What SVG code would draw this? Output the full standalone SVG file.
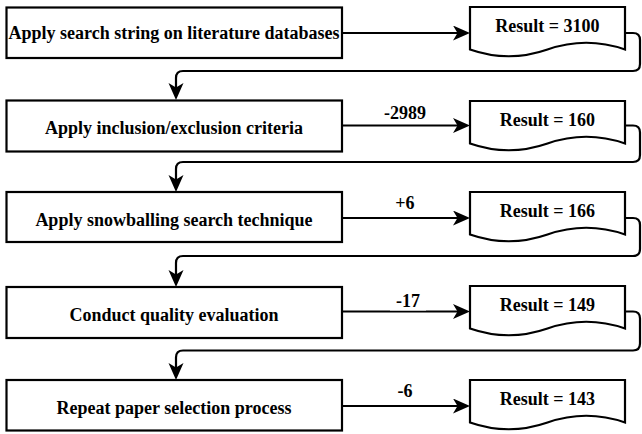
<svg xmlns="http://www.w3.org/2000/svg" width="642" height="434" viewBox="0 0 642 434">
<style>
.box{fill:#fff;stroke:#000;stroke-width:2.2}
.doc{fill:#fff;stroke:#000;stroke-width:2.2;stroke-linejoin:miter}
.t{font-family:"Liberation Serif","Times New Roman",serif;font-weight:bold;font-size:18px;fill:#000;text-anchor:middle}
.c{fill:none;stroke:#000;stroke-width:2.2}
</style>
<defs>
<marker id="ah" markerUnits="userSpaceOnUse" markerWidth="20" markerHeight="16" refX="12" refY="7.5" orient="auto">
<path d="M0,0 L17,7.5 L0,15 L4.5,7.5 Z" fill="#000"/>
</marker>
</defs>
<rect width="642" height="434" fill="#fff"/>
<g id="connectors">
<path class="c" d="M342,33 H465" marker-end="url(#ah)"/>
<path class="c" d="M625,33 H633 Q640,33 640,40 V64 Q640,71 633,71 H183 Q176,71 176,78 V95" marker-end="url(#ah)"/>
<path class="c" d="M342,125.5 H465" marker-end="url(#ah)"/>
<path class="c" d="M625,125.5 H633 Q640,125.5 640,132.5 V155 Q640,162 633,162 H183 Q176,162 176,169 V187" marker-end="url(#ah)"/>
<path class="c" d="M342,218 H465" marker-end="url(#ah)"/>
<path class="c" d="M625,218 H633 Q640,218 640,225 V249 Q640,256 633,256 H183 Q176,256 176,263 V282" marker-end="url(#ah)"/>
<path class="c" d="M342,311.5 H465" marker-end="url(#ah)"/>
<path class="c" d="M625,311.5 H633 Q640,311.5 640,318.5 V343.5 Q640,350.5 633,350.5 H183 Q176,350.5 176,357.5 V375" marker-end="url(#ah)"/>
<path class="c" d="M342,406 H465" marker-end="url(#ah)"/>
<text class="t" x="405" y="119">-2989</text>
<text class="t" x="405" y="209">+6</text>
<rect x="390" y="294" width="36" height="16.5" fill="#fff"/>
<text class="t" x="408" y="307">-17</text>
<text class="t" x="405" y="397">-6</text>
</g>
<g id="step1">
<rect class="box" x="6.5" y="7.5" width="335.5" height="50.5"/>
<text class="t" x="174" y="38.5">Apply search string on literature databases</text>
</g>
<g id="result1">
<path class="doc" d="M470,7 H625 V49.5 Q586.25,36 547.5,49.5 Q508.75,63 470,49.5 Z"/>
<text class="t" x="547.5" y="32">Result = 3100</text>
</g>
<g id="step2">
<rect class="box" x="6.5" y="100.5" width="335.5" height="51"/>
<text class="t" x="174" y="134">Apply inclusion/exclusion criteria</text>
</g>
<g id="result2">
<path class="doc" d="M470,101 H625 V143.5 Q586.25,130 547.5,143.5 Q508.75,157 470,143.5 Z"/>
<text class="t" x="547.5" y="126">Result = 160</text>
</g>
<g id="step3">
<rect class="box" x="6.5" y="192" width="335.5" height="50"/>
<text class="t" x="174" y="226">Apply snowballing search technique</text>
</g>
<g id="result3">
<path class="doc" d="M470,192 H625 V234.5 Q586.25,221 547.5,234.5 Q508.75,248 470,234.5 Z"/>
<text class="t" x="547.5" y="217">Result = 166</text>
</g>
<g id="step4">
<rect class="box" x="6.5" y="287" width="335.5" height="51"/>
<text class="t" x="174" y="321">Conduct quality evaluation</text>
</g>
<g id="result4">
<path class="doc" d="M470,286 H625 V328.5 Q586.25,315 547.5,328.5 Q508.75,342 470,328.5 Z"/>
<text class="t" x="547.5" y="311">Result = 149</text>
</g>
<g id="step5">
<rect class="box" x="6.5" y="380" width="335.5" height="50.5"/>
<text class="t" x="174" y="413.5">Repeat paper selection process</text>
</g>
<g id="result5">
<path class="doc" d="M470,380 H625 V422.5 Q586.25,409 547.5,422.5 Q508.75,436 470,422.5 Z"/>
<text class="t" x="547.5" y="405">Result = 143</text>
</g>
</svg>
